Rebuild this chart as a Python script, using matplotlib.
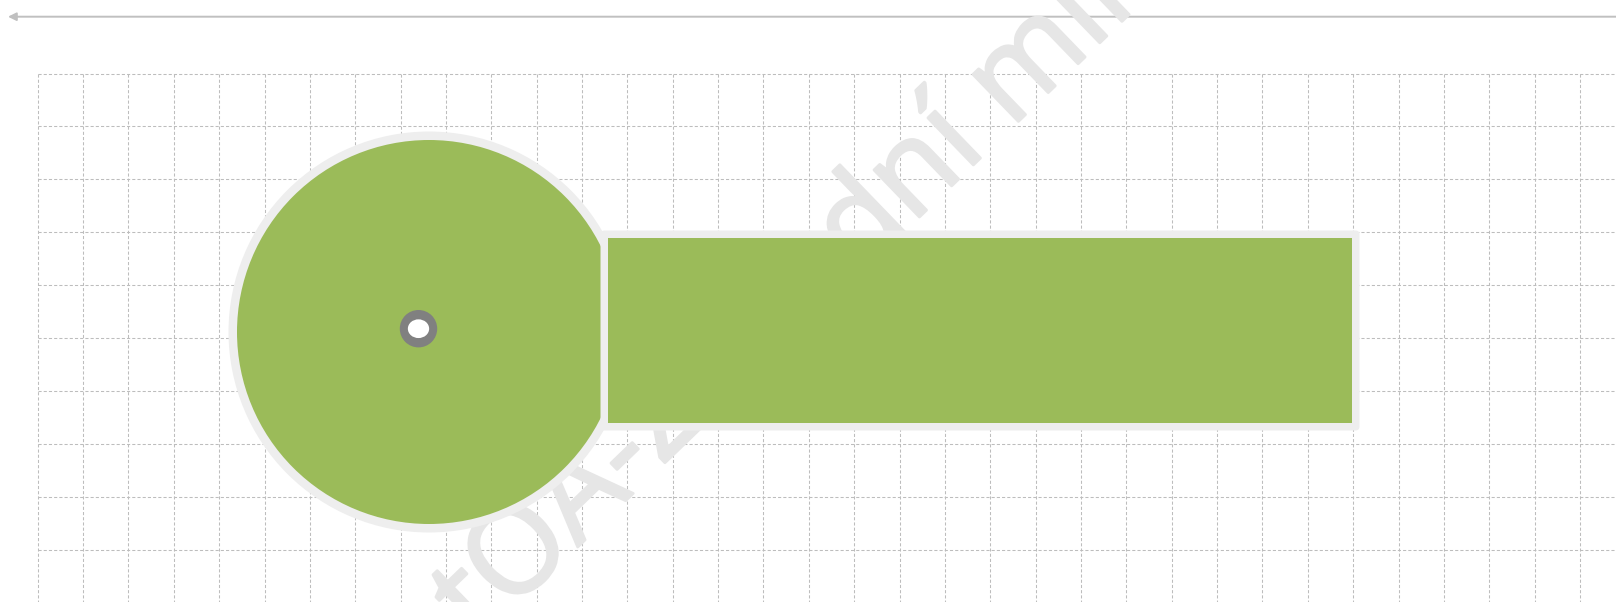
import numpy as np
import matplotlib
matplotlib.use('Agg')
import matplotlib.pyplot as plt
import matplotlib.patheffects as pe
from matplotlib.patches import Circle, Ellipse, Rectangle, FancyBboxPatch

# Gauge data (horizontal thermometer, tube is completely filled)
gauge_min = 0
gauge_max = 100
gauge_value = 100
watermark_text = 'tOA-Z 30 dní mil'

# Layout in pixels
W, H = 1616, 602
green = '#9BBB59'
rim = '#EEEEEE'
grid_col = '#BDBDBD'

fig = plt.figure(figsize=(W / 100, H / 100), dpi=100)
ax = fig.add_axes([0, 0, 1, 1])
ax.set_xlim(0, W)
ax.set_ylim(H, 0)
ax.axis('off')

# Dashed background grid
grid_x0, grid_y0 = 37.7, 73.5
xs = np.arange(grid_x0, W, 45.36)
ys = np.arange(grid_y0, H, 52.9)
ax.vlines(xs, grid_y0, H, colors=grid_col, linewidth=0.75,
          linestyles=(0, (3, 2)), zorder=1)
ax.hlines(ys, grid_x0, W, colors=grid_col, linewidth=0.75,
          linestyles=(0, (3, 2)), zorder=1)

# Top arrow
ax.annotate('', xy=(8, 16.7), xytext=(W + 5, 16.7),
            arrowprops=dict(arrowstyle='-|>', color='#C0C0C0', lw=1.4,
                            mutation_scale=12, shrinkA=0, shrinkB=0),
            zorder=2)

# Watermark
ax.text(785, 302, watermark_text, rotation=44, rotation_mode='anchor',
        ha='center', va='center', fontsize=88, family='Open Sans',
        color='#E6E6E6', zorder=2,
        path_effects=[pe.withStroke(linewidth=2, foreground='#E6E6E6')])

# Bulb
cx, cy, r = 429, 332, 192
ax.add_patch(Circle((cx, cy), r + 8.5, facecolor=rim, edgecolor='none', zorder=3))
ax.add_patch(Circle((cx, cy), r, facecolor=green, edgecolor='none', zorder=4))

# Tube
tube_x0, tube_x1 = 608, 1352
tube_y0, tube_y1 = 238, 423
pad = 7.5
ax.add_patch(FancyBboxPatch((tube_x0 - pad, tube_y0 - pad),
                            tube_x1 - tube_x0 + 2 * pad, tube_y1 - tube_y0 + 2 * pad,
                            boxstyle='round,pad=0,rounding_size=4',
                            facecolor=rim, edgecolor='none', zorder=5))
fill_len = (gauge_value - gauge_min) / (gauge_max - gauge_min) * (tube_x1 - tube_x0)
ax.add_patch(Rectangle((tube_x0, tube_y0), fill_len, tube_y1 - tube_y0,
                       facecolor=green, edgecolor='none', zorder=6))

# Pivot marker
ax.add_patch(Circle((418.5, 328.7), 18.7, facecolor='#808080', edgecolor='none', zorder=7))
ax.add_patch(Ellipse((418.5, 328.7), 21.3, 18.7, facecolor='white', edgecolor='none', zorder=8))

fig.savefig('out.png', dpi=100)
